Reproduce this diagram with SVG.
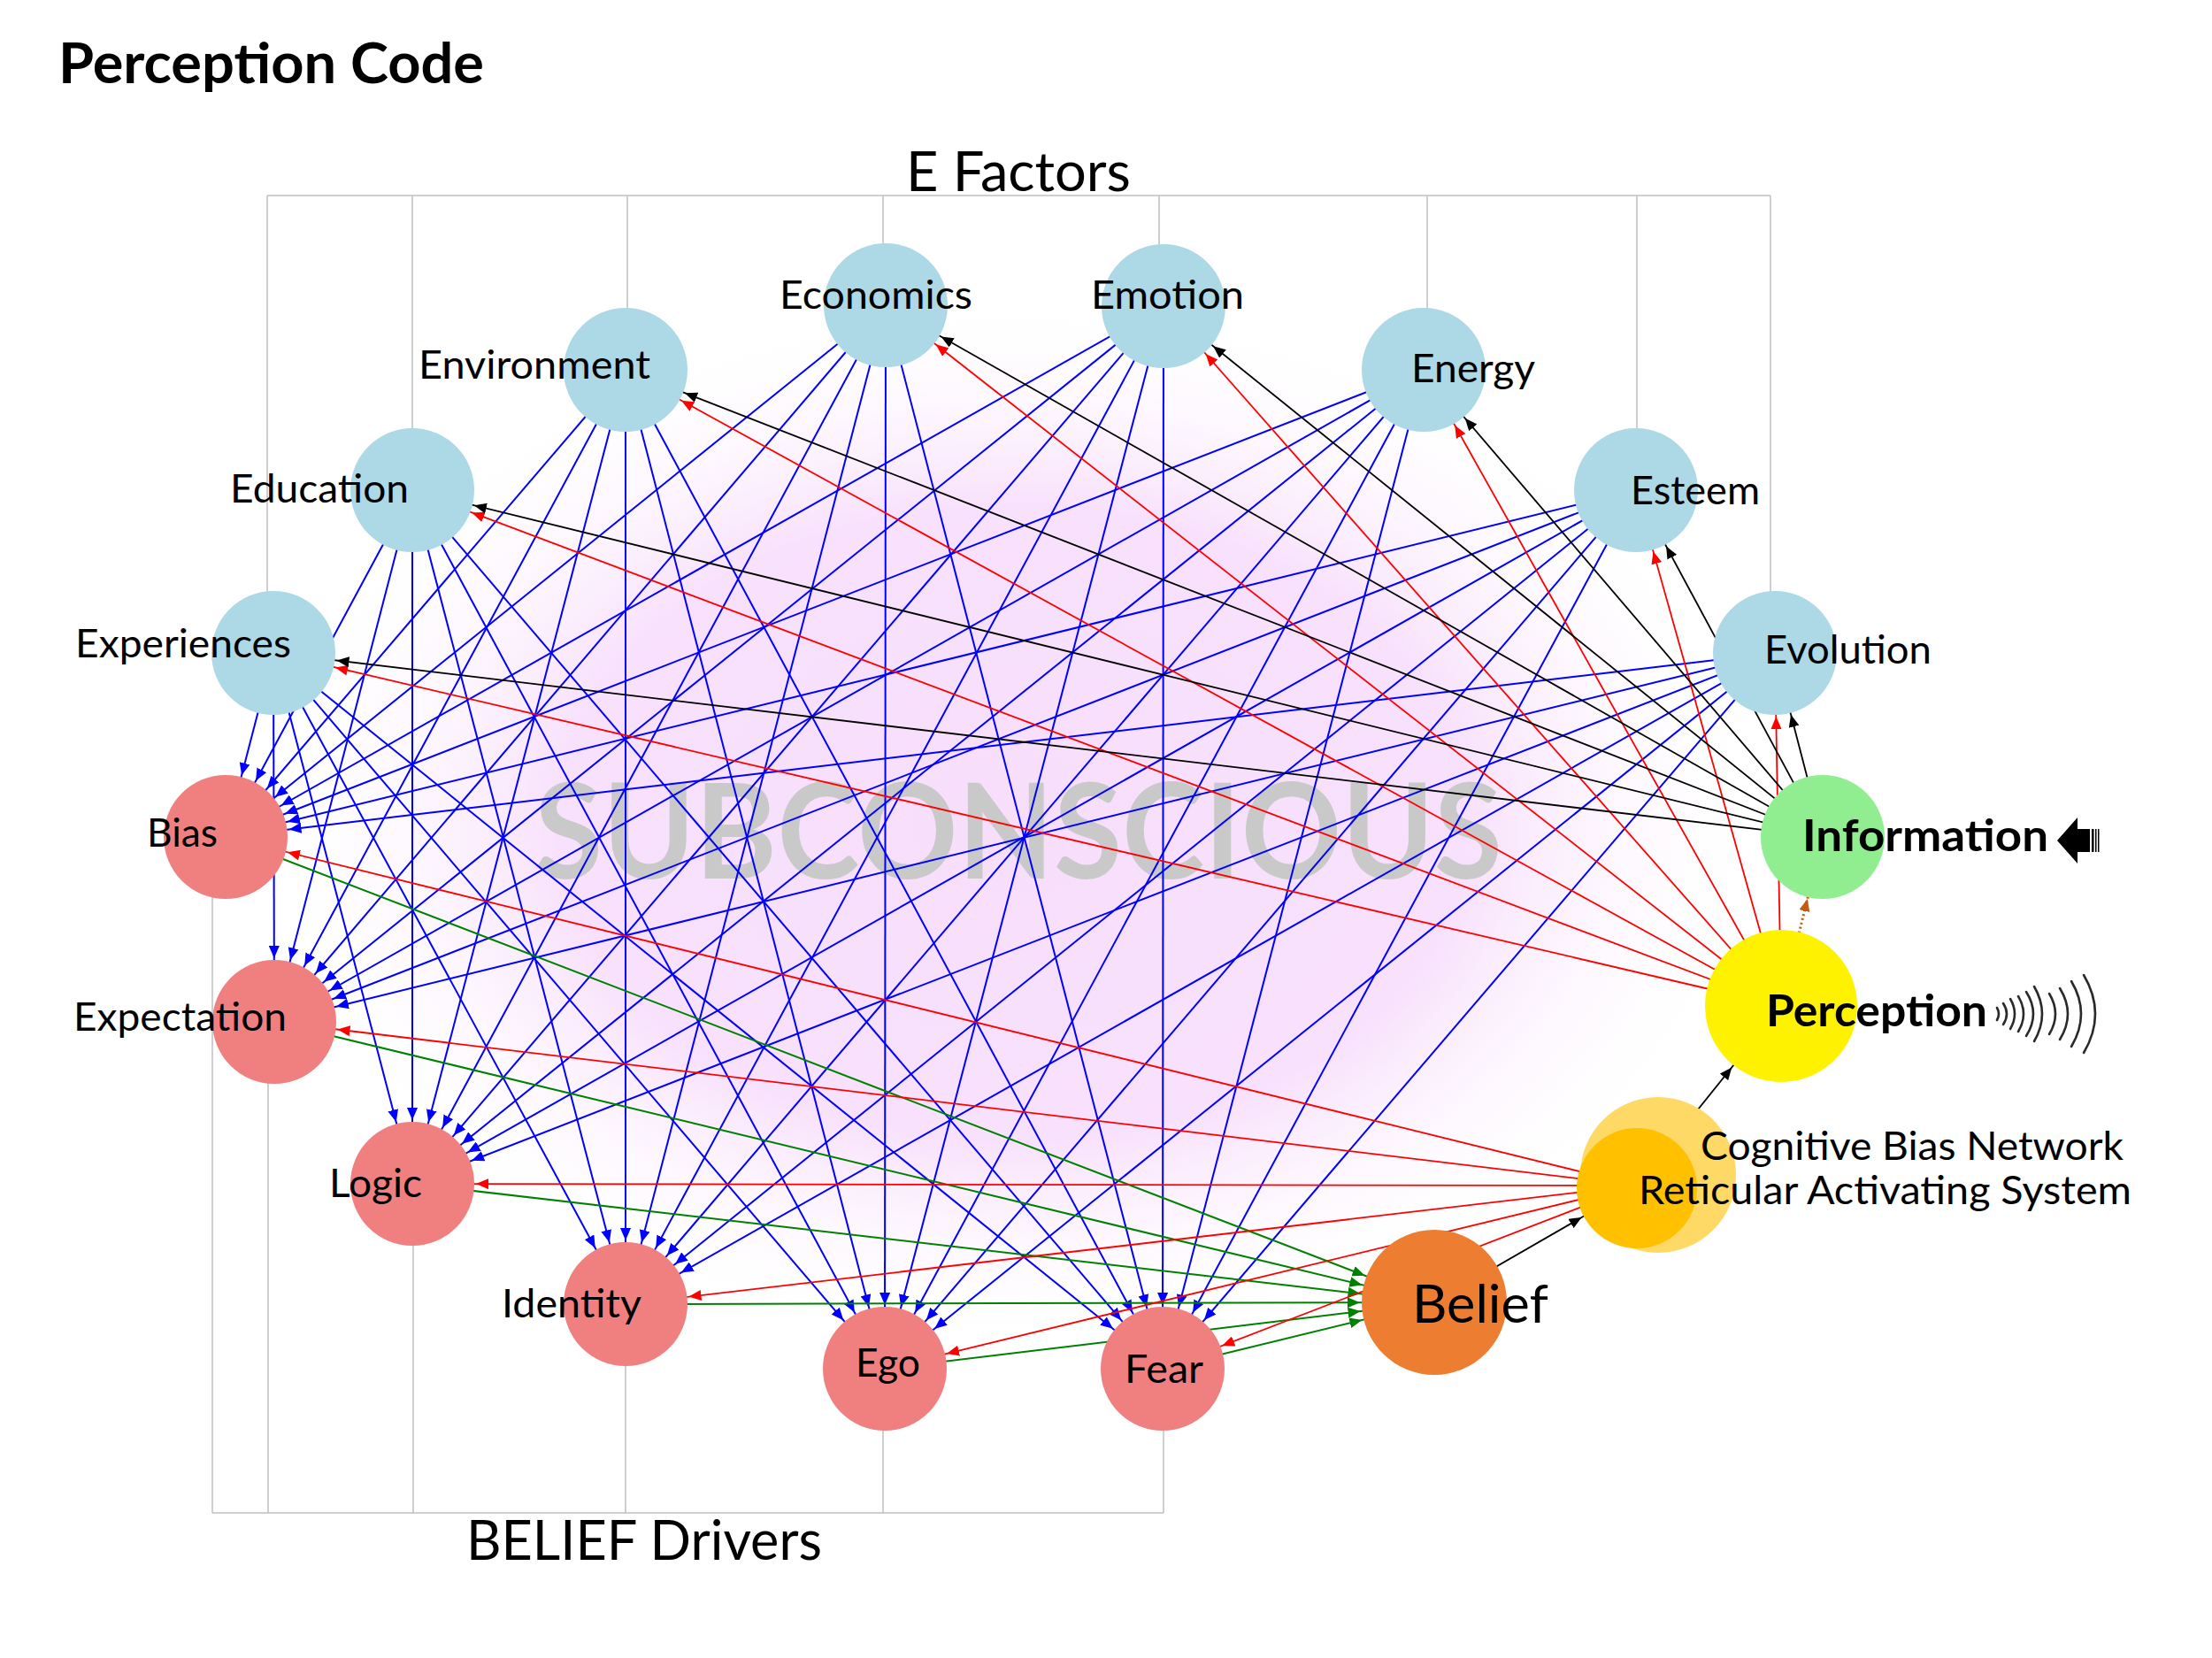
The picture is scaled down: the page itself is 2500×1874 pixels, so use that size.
<svg xmlns="http://www.w3.org/2000/svg" width="2500" height="1874" viewBox="0 0 2500 1874">
<defs>
<style>
text{font-family:Lato,"Liberation Sans",sans-serif;fill:#000}
.lbl{font-size:45px}
.hd{font-size:61px}
.bold{font-weight:700}
.frame line{stroke:#BFBFBF;stroke-width:1.5}
.blue line{stroke:#0000FF;stroke-width:2;marker-end:url(#ab)}
.green line{stroke:#008000;stroke-width:2;marker-end:url(#ag)}
.red line{stroke:#FF0000;stroke-width:1.8;marker-end:url(#ar)}
.black line{stroke:#000;stroke-width:1.8;marker-end:url(#ak)}
.ef{fill:#ADD8E6}
.bd{fill:#F08080}
.wave path{fill:none;stroke:#2a2a2a;stroke-width:2.6;stroke-linecap:round}
</style>
<radialGradient id="glow" cx="0.5" cy="0.5" r="0.5">
<stop offset="0" stop-color="#F7DFFC"/>
<stop offset="0.6" stop-color="#F8E1FC"/>
<stop offset="1" stop-color="#FFFFFF" stop-opacity="0"/>
</radialGradient>
<marker id="ab" markerUnits="userSpaceOnUse" markerWidth="14" markerHeight="12" viewBox="0 0 14 12" refX="86" refY="6" orient="auto"><path d="M0,0 L14,6 L0,12 z" fill="#0000FF"/></marker>
<marker id="ar" markerUnits="userSpaceOnUse" markerWidth="14" markerHeight="12" viewBox="0 0 14 12" refX="86" refY="6" orient="auto"><path d="M0,0 L14,6 L0,12 z" fill="#FF0000"/></marker>
<marker id="ak" markerUnits="userSpaceOnUse" markerWidth="14" markerHeight="12" viewBox="0 0 14 12" refX="86" refY="6" orient="auto"><path d="M0,0 L14,6 L0,12 z" fill="#000"/></marker>
<marker id="ak2" markerUnits="userSpaceOnUse" markerWidth="14" markerHeight="12" viewBox="0 0 14 12" refX="103" refY="6" orient="auto"><path d="M0,0 L14,6 L0,12 z" fill="#000"/></marker>
<marker id="ag" markerUnits="userSpaceOnUse" markerWidth="14" markerHeight="12" viewBox="0 0 14 12" refX="98" refY="6" orient="auto"><path d="M0,0 L14,6 L0,12 z" fill="#008000"/></marker>
<marker id="ao" markerUnits="userSpaceOnUse" markerWidth="14" markerHeight="12" viewBox="0 0 14 12" refX="86" refY="6" orient="auto"><path d="M0,0 L14,6 L0,12 z" fill="#C55A11"/></marker>
</defs>
<rect width="2500" height="1874" fill="#FFFFFF"/>
<ellipse cx="1145" cy="930" rx="860" ry="600" fill="url(#glow)"/>
<text x="604" y="993" class="bold" font-size="150" fill="#C9C9C9" style="fill:#C9C9C9" textLength="1094" lengthAdjust="spacingAndGlyphs">SUBCONSCIOUS</text>
<text x="66" y="94" class="bold" font-size="64" textLength="481" lengthAdjust="spacingAndGlyphs">Perception Code</text>
<g id="frames" class="frame">
<line x1="302" y1="221" x2="2001" y2="221"/>
<line x1="302" y1="221" x2="302" y2="738"/>
<line x1="466" y1="221" x2="466" y2="554"/>
<line x1="709" y1="221" x2="709" y2="418"/>
<line x1="998" y1="221" x2="998" y2="345"/>
<line x1="1310" y1="221" x2="1310" y2="346"/>
<line x1="1613" y1="221" x2="1613" y2="418"/>
<line x1="1850" y1="221" x2="1850" y2="554"/>
<line x1="2001" y1="221" x2="2001" y2="738"/>
<line x1="240" y1="1710" x2="1315" y2="1710"/>
<line x1="240" y1="1710" x2="240" y2="946"/>
<line x1="303" y1="1710" x2="303" y2="1155"/>
<line x1="467" y1="1710" x2="467" y2="1338"/>
<line x1="707" y1="1710" x2="707" y2="1474"/>
<line x1="998" y1="1710" x2="998" y2="1547"/>
<line x1="1315" y1="1710" x2="1315" y2="1547"/>
</g>
<text x="1024" y="216" class="hd" textLength="254" lengthAdjust="spacingAndGlyphs">E Factors</text>
<text x="527" y="1763" class="hd" textLength="402" lengthAdjust="spacingAndGlyphs">BELIEF Drivers</text>
<g id="connectors">
<g class="blue">
<line x1="1001" y1="345" x2="255" y2="946"/><line x1="1001" y1="345" x2="310" y2="1155"/><line x1="1001" y1="345" x2="466" y2="1338"/><line x1="1001" y1="345" x2="707" y2="1474"/><line x1="1001" y1="345" x2="1000" y2="1547"/><line x1="1001" y1="345" x2="1314" y2="1547"/>
<line x1="1315" y1="346" x2="255" y2="946"/><line x1="1315" y1="346" x2="310" y2="1155"/><line x1="1315" y1="346" x2="466" y2="1338"/><line x1="1315" y1="346" x2="707" y2="1474"/><line x1="1315" y1="346" x2="1000" y2="1547"/><line x1="1315" y1="346" x2="1314" y2="1547"/>
<line x1="707" y1="418" x2="255" y2="946"/><line x1="707" y1="418" x2="310" y2="1155"/><line x1="707" y1="418" x2="466" y2="1338"/><line x1="707" y1="418" x2="707" y2="1474"/><line x1="707" y1="418" x2="1000" y2="1547"/><line x1="707" y1="418" x2="1314" y2="1547"/>
<line x1="1609" y1="418" x2="255" y2="946"/><line x1="1609" y1="418" x2="310" y2="1155"/><line x1="1609" y1="418" x2="466" y2="1338"/><line x1="1609" y1="418" x2="707" y2="1474"/><line x1="1609" y1="418" x2="1000" y2="1547"/><line x1="1609" y1="418" x2="1314" y2="1547"/>
<line x1="466" y1="554" x2="255" y2="946"/><line x1="466" y1="554" x2="310" y2="1155"/><line x1="466" y1="554" x2="466" y2="1338"/><line x1="466" y1="554" x2="707" y2="1474"/><line x1="466" y1="554" x2="1000" y2="1547"/><line x1="466" y1="554" x2="1314" y2="1547"/>
<line x1="1849" y1="554" x2="255" y2="946"/><line x1="1849" y1="554" x2="310" y2="1155"/><line x1="1849" y1="554" x2="466" y2="1338"/><line x1="1849" y1="554" x2="707" y2="1474"/><line x1="1849" y1="554" x2="1000" y2="1547"/><line x1="1849" y1="554" x2="1314" y2="1547"/>
<line x1="309" y1="738" x2="255" y2="946"/><line x1="309" y1="738" x2="310" y2="1155"/><line x1="309" y1="738" x2="466" y2="1338"/><line x1="309" y1="738" x2="707" y2="1474"/><line x1="309" y1="738" x2="1000" y2="1547"/><line x1="309" y1="738" x2="1314" y2="1547"/>
<line x1="2006" y1="738" x2="255" y2="946"/><line x1="2006" y1="738" x2="310" y2="1155"/><line x1="2006" y1="738" x2="466" y2="1338"/><line x1="2006" y1="738" x2="707" y2="1474"/><line x1="2006" y1="738" x2="1000" y2="1547"/><line x1="2006" y1="738" x2="1314" y2="1547"/>
</g>
<g class="green">
<line x1="255" y1="946" x2="1621" y2="1472"/><line x1="310" y1="1155" x2="1621" y2="1472"/><line x1="466" y1="1338" x2="1621" y2="1472"/><line x1="707" y1="1474" x2="1621" y2="1472"/><line x1="1000" y1="1547" x2="1621" y2="1472"/><line x1="1314" y1="1547" x2="1621" y2="1472"/>
</g>
<g class="red">
<line x1="1850" y1="1340" x2="255" y2="946"/><line x1="1850" y1="1340" x2="310" y2="1155"/><line x1="1850" y1="1340" x2="466" y2="1338"/><line x1="1850" y1="1340" x2="707" y2="1474"/><line x1="1850" y1="1340" x2="1000" y2="1547"/><line x1="1850" y1="1340" x2="1314" y2="1547"/>
<line x1="2013" y1="1137" x2="1001" y2="345"/><line x1="2013" y1="1137" x2="1315" y2="346"/><line x1="2013" y1="1137" x2="707" y2="418"/><line x1="2013" y1="1137" x2="1609" y2="418"/><line x1="2013" y1="1137" x2="466" y2="554"/><line x1="2013" y1="1137" x2="1849" y2="554"/><line x1="2013" y1="1137" x2="309" y2="738"/><line x1="2013" y1="1137" x2="2006" y2="738"/>
</g>
<g class="black">
<line x1="2060" y1="946" x2="1001" y2="345"/><line x1="2060" y1="946" x2="1315" y2="346"/><line x1="2060" y1="946" x2="707" y2="418"/><line x1="2060" y1="946" x2="1609" y2="418"/><line x1="2060" y1="946" x2="466" y2="554"/><line x1="2060" y1="946" x2="1849" y2="554"/><line x1="2060" y1="946" x2="309" y2="738"/><line x1="2060" y1="946" x2="2006" y2="738"/>
<line x1="1621" y1="1472" x2="1850" y2="1340"/>
<line x1="1850" y1="1340" x2="2013" y2="1137" style="marker-end:url(#ak2)"/>
</g>
<line x1="2013" y1="1137" x2="2060" y2="946" stroke="#C55A11" stroke-width="3" stroke-dasharray="2 3" marker-end="url(#ao)"/>
</g>
<g id="node-economics"><circle class="ef" cx="1001" cy="345" r="70"/><text class="lbl" x="881" y="349" textLength="218" lengthAdjust="spacingAndGlyphs">Economics</text></g>
<g id="node-emotion"><circle class="ef" cx="1315" cy="346" r="70"/><text class="lbl" x="1233" y="349" textLength="173" lengthAdjust="spacingAndGlyphs">Emotion</text></g>
<g id="node-environment"><circle class="ef" cx="707" cy="418" r="70"/><text class="lbl" x="473" y="428" textLength="262" lengthAdjust="spacingAndGlyphs">Environment</text></g>
<g id="node-energy"><circle class="ef" cx="1609" cy="418" r="70"/><text class="lbl" x="1595" y="432" textLength="140" lengthAdjust="spacingAndGlyphs">Energy</text></g>
<g id="node-education"><circle class="ef" cx="466" cy="554" r="70"/><text class="lbl" x="260" y="568" textLength="202" lengthAdjust="spacingAndGlyphs">Education</text></g>
<g id="node-esteem"><circle class="ef" cx="1849" cy="554" r="70"/><text class="lbl" x="1843" y="570" textLength="146" lengthAdjust="spacingAndGlyphs">Esteem</text></g>
<g id="node-experiences"><circle class="ef" cx="309" cy="738" r="70"/><text class="lbl" x="85" y="743" textLength="244" lengthAdjust="spacingAndGlyphs">Experiences</text></g>
<g id="node-evolution"><circle class="ef" cx="2006" cy="738" r="70"/><text class="lbl" x="1994" y="750" textLength="189" lengthAdjust="spacingAndGlyphs">Evolution</text></g>
<g id="node-bias"><circle class="bd" cx="255" cy="946" r="70"/><text class="lbl" x="166" y="957" textLength="80" lengthAdjust="spacingAndGlyphs">Bias</text></g>
<g id="node-expectation"><circle class="bd" cx="310" cy="1155" r="70"/><text class="lbl" x="83" y="1165" textLength="241" lengthAdjust="spacingAndGlyphs">Expectation</text></g>
<g id="node-logic"><circle class="bd" cx="466" cy="1338" r="70"/><text class="lbl" x="372" y="1353" textLength="105" lengthAdjust="spacingAndGlyphs">Logic</text></g>
<g id="node-identity"><circle class="bd" cx="707" cy="1474" r="70"/><text class="lbl" x="567" y="1489" textLength="158" lengthAdjust="spacingAndGlyphs">Identity</text></g>
<g id="node-ego"><circle class="bd" cx="1000" cy="1547" r="70"/><text class="lbl" x="967" y="1556" textLength="73" lengthAdjust="spacingAndGlyphs">Ego</text></g>
<g id="node-fear"><circle class="bd" cx="1314" cy="1547" r="70"/><text class="lbl" x="1271" y="1563" textLength="89" lengthAdjust="spacingAndGlyphs">Fear</text></g>
<g id="node-belief"><circle cx="1621" cy="1472" r="82" fill="#ED7D31"/><text x="1596" y="1495" font-size="60" textLength="154" lengthAdjust="spacingAndGlyphs">Belief</text></g>
<g id="node-information"><circle cx="2060" cy="946" r="70" fill="#90EE90"/><text x="2037" y="962" class="bold" font-size="50" textLength="278" lengthAdjust="spacingAndGlyphs">Information</text>
<path d="M2325,950 L2348,924 L2348,937 L2362,937 L2362,963 L2348,963 L2348,976 Z" fill="#000"/>
<rect x="2364" y="937" width="2.5" height="26" fill="#000"/><rect x="2368" y="937" width="1.5" height="26" fill="#000"/><rect x="2371" y="937" width="1.5" height="26" fill="#000"/>
</g>
<g id="node-perception"><circle cx="2013" cy="1137" r="86" fill="#FFF200"/><text x="1996" y="1160" class="bold" font-size="50" textLength="250" lengthAdjust="spacingAndGlyphs">Perception</text>
<g class="wave">
<path d="M2257,1139 Q2261,1146 2257,1153"/>
<path d="M2264,1134 Q2272,1146 2264,1158"/>
<path d="M2272,1129 Q2282,1146 2272,1163"/>
<path d="M2281,1126 Q2293,1146 2281,1166"/>
<path d="M2290,1121 Q2306,1146 2290,1171"/>
<path d="M2299,1115 Q2317,1146 2299,1177"/>
<path d="M2316,1123 Q2330,1146 2316,1169"/>
<path d="M2328,1117 Q2346,1146 2328,1175"/>
<path d="M2341,1109 Q2363,1146 2341,1183"/>
<path d="M2355,1102 Q2381,1146 2355,1190"/>
</g>
</g>
<g id="node-cognitive"><circle cx="1874" cy="1328" r="88" fill="#FFD966"/><circle cx="1850" cy="1343" r="68" fill="#FFC000"/>
<text class="lbl" x="1922" y="1311" textLength="478" lengthAdjust="spacingAndGlyphs">Cognitive Bias Network</text>
<text class="lbl" x="1852" y="1361" textLength="557" lengthAdjust="spacingAndGlyphs">Reticular Activating System</text>
</g>
</svg>
